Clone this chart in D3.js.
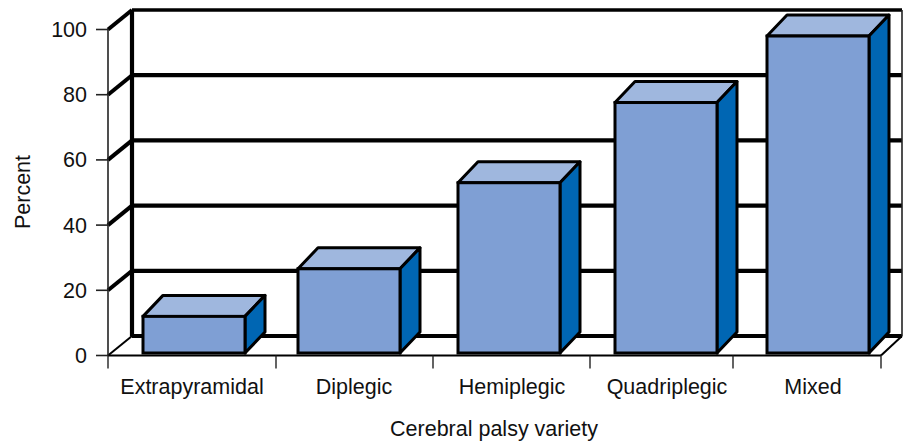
<!DOCTYPE html>
<html><head><meta charset="utf-8">
<script src="https://cdnjs.cloudflare.com/ajax/libs/d3/7.8.5/d3.min.js"></script>
<style>html,body{margin:0;padding:0;background:#fff}svg{display:block}text{font-family:"Liberation Sans",Arial,sans-serif;font-size:21.5px;fill:#111}</style>
</head><body><svg id="c" width="906" height="443"></svg>
<script>
const categories = ["Extrapyramidal","Diplegic","Hemiplegic","Quadriplegic","Mixed"];
const values = [12,26.6,53,77.6,98];
const yTicks = [0,20,40,60,80,100];
const yTitle = "Percent";
const xTitle = "Cerebral palsy variety";

const barLeft = [143,298,458,615,767];
const labelCenter = [192,354,512,667,813];
const tickEdges = [108,276,433,590,733,881];
const barW = 102, dep = {x:24,y:-19.5}, barDep = {x:20,y:-21};

const svg = d3.select("#c");
const y = d3.scaleLinear().domain([0,100]).range([355.5,29.5]);
const xBar = d3.scaleOrdinal().domain(categories).range(barLeft);
const xLab = d3.scaleOrdinal().domain(categories).range(labelCenter);
const x0 = tickEdges[0], x1 = tickEdges[5];
const line = d3.line();
const pathLine = (g,pts,w,c) => g.append("path").attr("d",line(pts)).attr("fill","none").attr("stroke",c||"#000").attr("stroke-width",w).attr("stroke-linejoin","miter");

// back wall gridlines
const wall = svg.append("g");
yTicks.forEach(t=>{
  const yy=y(t);
  pathLine(wall,[[x0+dep.x,yy+dep.y],[x1+21,yy+dep.y]],t===100?3.5:4.2);
  pathLine(wall,[[x0,yy],[x0+dep.x,yy+dep.y]],t===0?2:4);
});
pathLine(wall,[[x0+dep.x,y(100)+dep.y],[x0+dep.x,y(0)+dep.y]],4.2);
pathLine(wall,[[x1+21,y(100)+dep.y],[x1+21,y(0)+dep.y]],1.6,"#222");
// floor
pathLine(wall,[[x1,y(0)],[x1+21,y(0)+dep.y]],2);
pathLine(wall,[[x0,y(0)],[x1,y(0)]],2);
// front axis
pathLine(wall,[[x0,y(100)],[x0,y(0)]],1.6,"#222");
yTicks.forEach(t=>pathLine(wall,[[x0-12,y(t)],[x0,y(t)]],1.6,"#222"));
tickEdges.forEach(e=>pathLine(wall,[[e,y(0)],[e,y(0)+13]],1.4,"#222"));

const yLabs = svg.append("g");
yLabs.selectAll("text").data(yTicks).join("text").attr("x",87).attr("y",d=>y(d)+7.5).attr("text-anchor","end").text(d=>d);

// bars
const bars = svg.append("g").selectAll("g").data(categories.map((c,i)=>({c,v:values[i]}))).join("g");
const baseY = y(0)-2.5;
const sw = 3;
bars.append("path").attr("d",d=>{const l=xBar(d.c),r=l+barW,t=y(d.v);return line([[l,t],[l+barDep.x,t+barDep.y],[r+barDep.x,t+barDep.y],[r,t]])+"Z"}).attr("fill","#9fb7de").attr("stroke","#000").attr("stroke-width",sw).attr("stroke-linejoin","round");
bars.append("path").attr("d",d=>{const r=xBar(d.c)+barW,t=y(d.v);return line([[r,t],[r+barDep.x,t+barDep.y],[r+barDep.x,baseY+barDep.y],[r,baseY]])+"Z"}).attr("fill","#0066b3").attr("stroke","#000").attr("stroke-width",sw).attr("stroke-linejoin","round");
bars.append("rect").attr("x",d=>xBar(d.c)).attr("y",d=>y(d.v)).attr("width",barW).attr("height",d=>baseY-y(d.v)).attr("fill","#7f9fd4").attr("stroke","#000").attr("stroke-width",sw);

svg.append("g").selectAll("text").data(categories).join("text").attr("x",d=>xLab(d)).attr("y",394).attr("text-anchor","middle").text(d=>d);
svg.append("text").attr("x",494).attr("y",436).attr("text-anchor","middle").text(xTitle);
svg.append("text").attr("transform","translate(30,192) rotate(-90)").attr("text-anchor","middle").text(yTitle);
</script></body></html>
